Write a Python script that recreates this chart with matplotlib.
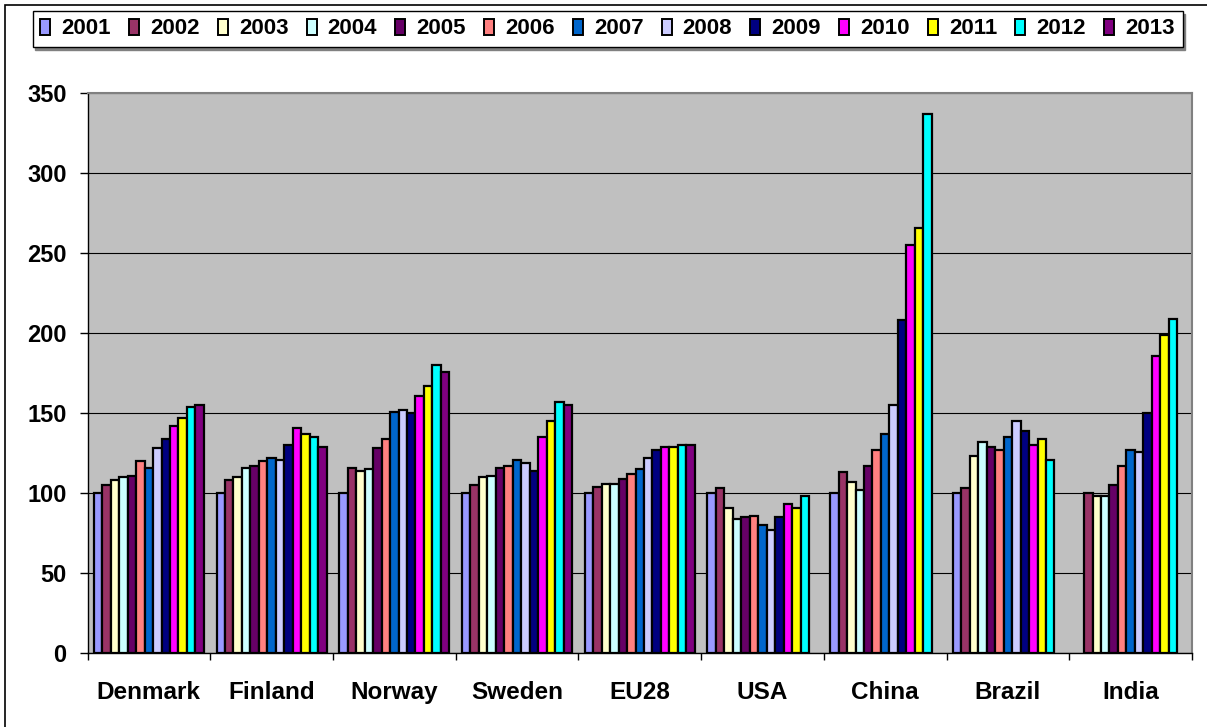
import numpy as np
import matplotlib
matplotlib.use("Agg")
import matplotlib.pyplot as plt
from matplotlib.patches import Patch, Rectangle

plt.rcParams["font.family"] = ["Liberation Sans", "DejaVu Sans"]
plt.rcParams["font.weight"] = "bold"

countries = ["Denmark", "Finland", "Norway", "Sweden", "EU28",
             "USA", "China", "Brazil", "India"]
years = ["2001", "2002", "2003", "2004", "2005", "2006", "2007",
         "2008", "2009", "2010", "2011", "2012", "2013"]
nan = np.nan

denmark = [100, 105, 108, 110, 111, 120, 116, 128, 134, 142, 147, 154, 155]
finland = [100, 108, 110, 116, 117, 120, 122, 121, 130, 141, 137, 135, 129]
norway = [100, 116, 114, 115, 128, 134, 151, 152, 150, 161, 167, 180, 176]
sweden = [100, 105, 110, 111, 116, 117, 121, 119, 114, 135, 145, 157, 155]
eu28 = [100, 104, 106, 106, 109, 112, 115, 122, 127, 129, 129, 130, 130]
usa = [100, 103, 91, 84, 85, 86, 80, 77, 85, 93, 91, 98, nan]
china = [100, 113, 107, 102, 117, 127, 137, 155, 208, 255, 266, 337, nan]
brazil = [100, 103, 123, 132, 129, 127, 135, 145, 139, 130, 134, 121, nan]
india = [nan, 100, 98, 98, 105, 117, 127, 126, 150, 186, 199, 209, nan]

year_colors = ["#9999FF", "#993366", "#FFFFCC", "#CCFFFF", "#660066",
               "#FF8080", "#0066CC", "#CCCCFF", "#000080", "#FF00FF",
               "#FFFF00", "#00FFFF", "#800080"]

values = np.array([denmark, finland, norway, sweden, eu28,
                   usa, china, brazil, india], dtype=float)

W, H = 1207, 727
fig = plt.figure(figsize=(W / 100, H / 100), dpi=100)
fig.patch.set_facecolor("white")

left, right, bottom, top = 87.5, 1192, 653.3, 93.3
ax = fig.add_axes([left / W, 1 - bottom / H, (right - left) / W, (bottom - top) / H])
ax.set_facecolor("#C0C0C0")

n_years = len(years)
bar_w = 1 / (n_years + 1.5)
group_idx = np.arange(len(countries))
for j in range(n_years):
    xs = group_idx + (0.75 + j + 0.5) * bar_w
    ax.bar(xs, values[:, j], width=bar_w, color=year_colors[j],
           edgecolor="black", linewidth=1.6, zorder=3)

ax.set_xlim(0, len(countries))
ax.set_ylim(0, 350)
ax.set_yticks(np.arange(0, 351, 50))
ax.yaxis.grid(True, color="black", linewidth=0.8, zorder=1)
ax.set_axisbelow(True)

ax.set_xticks(group_idx + 0.5)
ax.set_xticklabels(countries, fontsize=17.5, fontweight="bold")
ax.set_xticks(np.arange(0, len(countries) + 1), minor=True)
ax.tick_params(axis="x", which="major", length=0, pad=20)
ax.tick_params(axis="x", which="minor", length=5, width=1, color="black",
               direction="out")
ax.tick_params(axis="y", length=6, width=1, color="black", direction="out",
               pad=9, labelsize=17)
for lab in ax.get_yticklabels():
    lab.set_fontweight("bold")

for side in ("top", "right"):
    ax.spines[side].set_color("#808080")
    ax.spines[side].set_linewidth(1.5)
for side in ("left", "bottom"):
    ax.spines[side].set_color("black")
    ax.spines[side].set_linewidth(1)

handles = [Patch(facecolor=c, edgecolor="black", linewidth=1.4) for c in year_colors]
leg = fig.legend(handles, years, loc="center", ncol=n_years, mode="expand",
                 bbox_to_anchor=(32.5 / W, 1 - 49 / H, 1150 / W, 40 / H),
                 prop={"size": 16, "weight": "bold"},
                 handlelength=0.45, handleheight=0.7, handletextpad=0.5,
                 columnspacing=0.8, borderpad=0.35, borderaxespad=0,
                 frameon=True, fancybox=False, shadow={"color": "#808080", "alpha": 1},
                 edgecolor="black", framealpha=1)
leg.get_frame().set_linewidth(1)

fig.add_artist(Rectangle((5 / W, -0.1), 1.5, 1.1 - 4.5 / H, transform=fig.transFigure,
                         fill=False, edgecolor="black", linewidth=1.2))

fig.savefig("out.png", dpi=100, facecolor="white")
